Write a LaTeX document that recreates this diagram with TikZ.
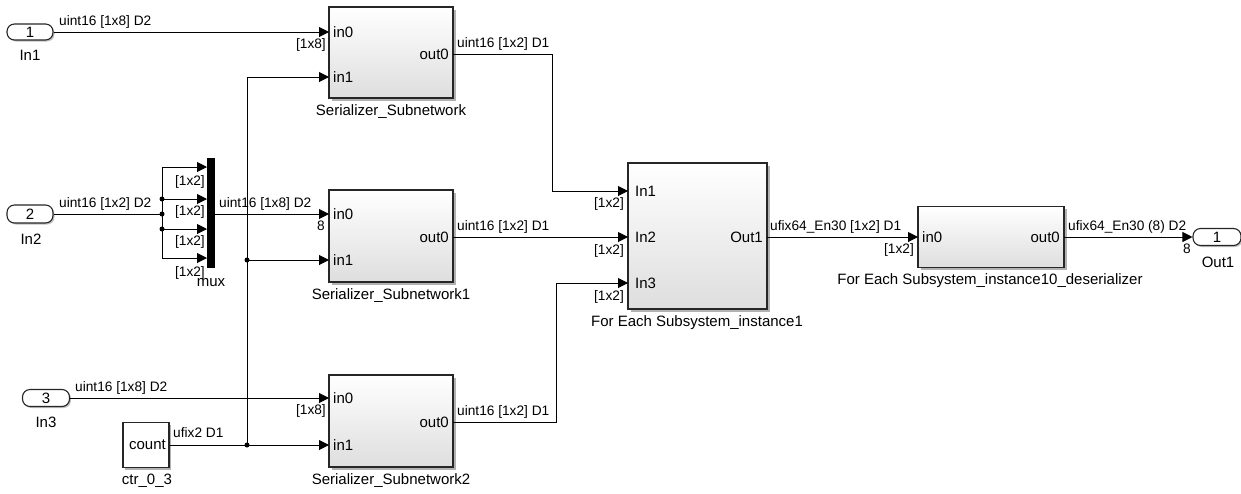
\documentclass[tikz,border=0pt]{standalone}
\usepackage{fontspec}
\setmainfont{Liberation Sans}
\usetikzlibrary{arrows.meta,shadows,calc}
\newcommand\sigf{\fontsize{13.7}{15}\selectfont}
\newcommand\blkf{\fontsize{15}{17}\selectfont}
\begin{document}
\begin{tikzpicture}[x=1pt,y=-1pt,
  blk/.style={draw=black!85, line width=1.1pt, top color=white, bottom color=black!13,
    drop shadow={shadow xshift=2.5pt,shadow yshift=-2.5pt,opacity=0.3,fill=black},
    inner sep=0pt},
  pill/.style={draw=black!85, line width=1.1pt, rounded corners=7.5pt, fill=white,
    drop shadow={shadow xshift=1.5pt,shadow yshift=-1.5pt,opacity=0.25,fill=black},
    inner sep=0pt, minimum width=46pt, minimum height=16pt, font=\blkf},
  sig/.style={line width=1pt, -{Triangle[length=10pt,width=10pt]}},
  wire/.style={line width=1pt},
  lbl/.style={font=\sigf, inner sep=0pt},
  port/.style={font=\blkf, inner sep=0pt},
  dot/.style={circle, fill=black, inner sep=0pt, minimum size=5pt}
]
\useasboundingbox (0,0) rectangle (1241,493);

% ---------- blocks ----------
\node[blk, minimum width=124pt, minimum height=91pt] (S0) at (391,52.5) {};
\node[blk, minimum width=124pt, minimum height=92pt] (S1) at (391,236) {};
\node[blk, minimum width=124pt, minimum height=92pt] (S2) at (391,421) {};
\node[blk, minimum width=139pt, minimum height=146pt] (FE) at (697.5,236) {};
\node[blk, minimum width=146pt, minimum height=61pt] (DS) at (991,237) {};
\node[draw=black!85, line width=1.1pt, fill=white,
    drop shadow={shadow xshift=2pt,shadow yshift=-2pt,opacity=0.3,fill=black},
    minimum width=46pt, minimum height=45pt, inner sep=0pt] (ctr) at (146,445) {};
\node[fill=black, minimum width=8pt, minimum height=110pt, inner sep=0pt] (mux) at (211,213) {};

\node[pill] (In1) at (30,32) {1};
\node[pill, minimum height=18pt] (In2) at (30,214) {2};
\node[pill, minimum width=47pt, minimum height=17pt] (In3) at (46,398) {3};
\node[pill, minimum width=48pt, minimum height=17pt] (Out1) at (1217,237) {1};

% ---------- port coordinates ----------
\coordinate (S0i0) at (329,32);
\coordinate (S0i1) at (329,77);
\coordinate (S0o)  at (453,54);
\coordinate (S1i0) at (329,214);
\coordinate (S1i1) at (329,260);
\coordinate (S1o)  at (453,237);
\coordinate (S2i0) at (329,398);
\coordinate (S2i1) at (329,445);
\coordinate (S2o)  at (453,422);
\coordinate (FEi1) at (628,191);
\coordinate (FEi2) at (628,237);
\coordinate (FEi3) at (628,283);
\coordinate (FEo)  at (767,237);
\coordinate (DSi)  at (918,237);
\coordinate (DSo)  at (1064,237);
\coordinate (Mi1) at (207,167);
\coordinate (Mi2) at (207,199);
\coordinate (Mi3) at (207,229);
\coordinate (Mi4) at (207,258);
\coordinate (m0) at (162,214);
\coordinate (d1) at (162,199);
\coordinate (d2) at (162,229);
\coordinate (j1) at (247,260);
\coordinate (jc) at (247,445);

% ---------- block texts ----------
\node[port, anchor=west] at (333,32) {in0};
\node[port, anchor=west] at (333,77) {in1};
\node[port, anchor=east] at (449,54) {out0};
\node[port] at (391,112) {Serializer\_Subnetwork};

\node[port, anchor=west] at (333,214) {in0};
\node[port, anchor=west] at (333,260) {in1};
\node[port, anchor=east] at (449,237) {out0};
\node[port] at (391,296) {Serializer\_Subnetwork1};

\node[port, anchor=west] at (333,398) {in0};
\node[port, anchor=west] at (333,445) {in1};
\node[port, anchor=east] at (449,422) {out0};
\node[port] at (391,481) {Serializer\_Subnetwork2};

\node[port, anchor=west] at (635,191) {In1};
\node[port, anchor=west] at (635,237) {In2};
\node[port, anchor=west] at (635,283) {In3};
\node[port, anchor=east] at (763,237) {Out1};
\node[port] at (697,323) {For Each Subsystem\_instance1};

\node[port, anchor=west] at (922,237) {in0};
\node[port, anchor=east] at (1060,237) {out0};
\node[port] at (990,281) {For Each Subsystem\_instance10\_deserializer};

\node[port, anchor=east] at (166,445) {count};
\node[port] at (147,481) {ctr\_0\_3};
\node[port] at (211,283) {mux};

\node[port] at (30,55) {In1};
\node[port] at (31,239) {In2};
\node[port] at (46,422) {In3};
\node[port] at (1218,262) {Out1};

% ---------- connectors ----------
\draw[sig] (In1.east) -- (S0i0);
\draw[sig] (In3.east) -- (S2i0);
\draw[wire] (In2.east) -- (m0);
\draw[wire] (d1) -- (d2);
\draw[sig] (d1) -- (Mi2);
\draw[sig] (d1) |- (Mi1);
\draw[sig] (d2) -- (Mi3);
\draw[sig] (d2) |- (Mi4);
\draw[sig] (mux.east |- S1i0) -- (S1i0);
\draw[sig] (ctr.east) -- (S2i1);
\draw[sig] (jc) |- (S0i1);
\draw[sig] (j1) -- (S1i1);
\draw[sig] (S0o) -- ++(99,0) |- (FEi1);
\draw[sig] (S1o) -- (FEi2);
\draw[sig] (S2o) -- ++(103,0) |- (FEi3);
\draw[sig] (FEo) -- (DSi);
\draw[sig] (DSo) -- (Out1.west);

\node[dot] at (d1) {};
\node[dot] at (m0) {};
\node[dot] at (d2) {};
\node[dot] at (j1) {};
\node[dot] at (jc) {};

% ---------- signal labels ----------
\node[lbl, anchor=base west] at (59,25) {uint16 [1x8] D2};
\node[lbl, anchor=base west] at (59,207) {uint16 [1x2] D2};
\node[lbl, anchor=base west] at (75,391) {uint16 [1x8] D2};
\node[lbl, anchor=base west] at (219,207) {uint16 [1x8] D2};
\node[lbl, anchor=base west] at (173,437) {ufix2 D1};
\node[lbl, anchor=base west] at (457,47) {uint16 [1x2] D1};
\node[lbl, anchor=base west] at (457,230) {uint16 [1x2] D1};
\node[lbl, anchor=base west] at (457,415) {uint16 [1x2] D1};
\node[lbl, anchor=base west] at (770,230) {ufix64\_En30 [1x2] D1};
\node[lbl, anchor=base west] at (1068,230) {ufix64\_En30 (8) D2};

\node[lbl, anchor=base east] at (326,48) {[1x8]};
\node[lbl, anchor=base east] at (326,414) {[1x8]};
\node[lbl, anchor=base east] at (325,230) {8};
\node[lbl, anchor=base east] at (1191,253) {8};
\node[lbl, anchor=base east] at (624,207) {[1x2]};
\node[lbl, anchor=base east] at (624,254) {[1x2]};
\node[lbl, anchor=base east] at (624,300) {[1x2]};
\node[lbl, anchor=base east] at (914,253) {[1x2]};
\node[lbl, anchor=base east] at (205,185) {[1x2]};
\node[lbl, anchor=base east] at (205,215) {[1x2]};
\node[lbl, anchor=base east] at (205,245) {[1x2]};
\node[lbl, anchor=base east] at (205,276) {[1x2]};
\end{tikzpicture}
\end{document}
